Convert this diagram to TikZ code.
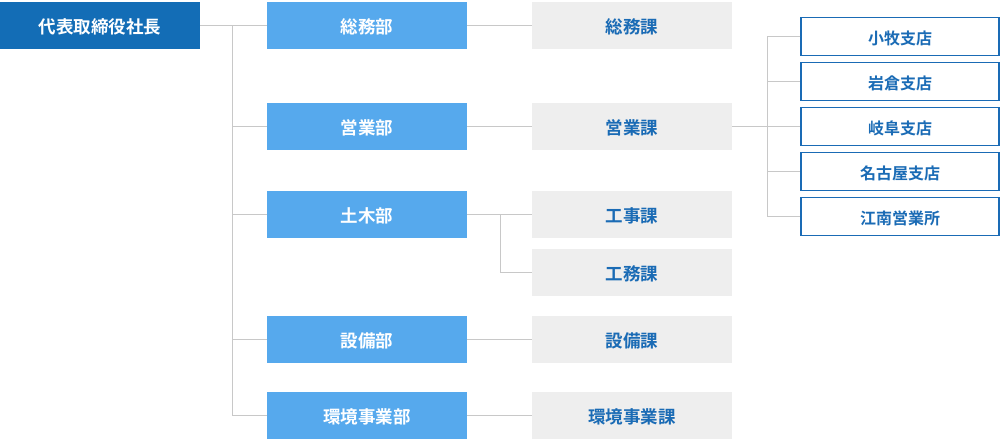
\documentclass[tikz,border=0pt]{standalone}
\usepackage{fontspec}
\newfontfamily\cjk{Noto Sans CJK JP}[BoldFont={* Bold}]
\definecolor{presblue}{HTML}{136DB6}
\definecolor{deptblue}{HTML}{56A9ED}
\definecolor{secgray}{HTML}{EEEEEE}
\definecolor{txtblue}{HTML}{1A6BB5}
\definecolor{linegray}{HTML}{C8C8C8}
\begin{document}
\begin{tikzpicture}[x=1pt,y=-1pt,
  box/.style={minimum width=200pt,minimum height=47pt,inner sep=0pt,text height=16.3pt,text depth=0pt,font=\cjk\bfseries\fontsize{17.5}{19}\selectfont},
  pres/.style={box,fill=presblue,text=white},
  dept/.style={box,fill=deptblue,text=white},
  sect/.style={box,fill=secgray,text=txtblue},
  branch/.style={box,minimum width=198pt,minimum height=38pt,text height=15.2pt,draw=txtblue,line width=1.2pt,fill=white,text=txtblue,font=\cjk\bfseries\fontsize{16}{18}\selectfont},
  conn/.style={draw=linegray,line width=1pt}]
\useasboundingbox (0,0) rectangle (1000,440);
% president
\node[pres] (p) at (100,25) {代表取締役社長};
% departments
\node[dept] (d1) at (367,25) {総務部};
\node[dept] (d2) at (367,126.5) {営業部};
\node[dept] (d3) at (367,214.5) {土木部};
\node[dept] (d4) at (367,339.5) {設備部};
\node[dept] (d5) at (367,415.5) {環境事業部};
% sections
\node[sect] (s1) at (632,25) {総務課};
\node[sect] (s2) at (632,126.5) {営業課};
\node[sect] (s3) at (632,214.5) {工事課};
\node[sect] (s3b) at (632,272.5) {工務課};
\node[sect] (s4) at (632,339.5) {設備課};
\node[sect] (s5) at (632,415.5) {環境事業課};
% branches
\node[branch] (b1) at (900,36.5) {小牧支店};
\node[branch] (b2) at (900,81.5) {岩倉支店};
\node[branch] (b3) at (900,126.5) {岐阜支店};
\node[branch] (b4) at (900,171.5) {名古屋支店};
\node[branch] (b5) at (900,216.5) {江南営業所};
% coordinates
\coordinate (jp) at (232,25);
\coordinate (jpe) at (232,415.5);
\coordinate (j3) at (500,214.5);
\coordinate (j3e) at (500,272.5);
\coordinate (jb) at (767,36.5);
\coordinate (jbe) at (767,216.5);
% connectors
\draw[conn] (p.east) -- (d1.west);
\draw[conn] (jp) -- (jpe) -- (d5.west);
\draw[conn] (jp |- d2.west) -- (d2.west);
\draw[conn] (jp |- d3.west) -- (d3.west);
\draw[conn] (jp |- d4.west) -- (d4.west);
\draw[conn] (d1.east) -- (s1.west);
\draw[conn] (d2.east) -- (s2.west);
\draw[conn] (d3.east) -- (s3.west);
\draw[conn] (j3) -- (j3e) -- (s3b.west);
\draw[conn] (d4.east) -- (s4.west);
\draw[conn] (d5.east) -- (s5.west);
\draw[conn] (s2.east) -- (b3.west);
\draw[conn] (b1.west) -- (jb) -- (jbe) -- (b5.west);
\draw[conn] (jb |- b2.west) -- (b2.west);
\draw[conn] (jb |- b4.west) -- (b4.west);
\end{tikzpicture}
\end{document}
